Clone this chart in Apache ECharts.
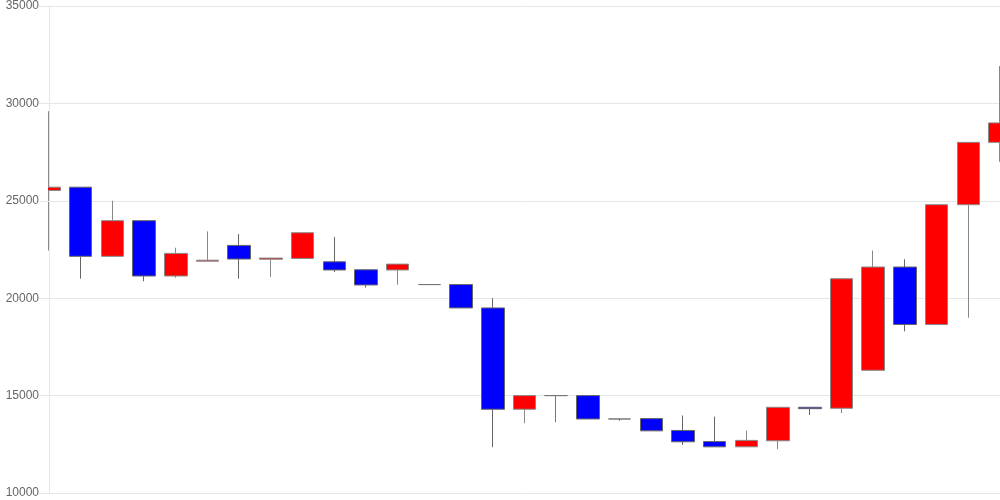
<!DOCTYPE html>
<html>
<head>
<meta charset="utf-8">
<script src="https://cdn.jsdelivr.net/npm/echarts@6/dist/echarts.min.js"></script>
<style>html,body{margin:0;padding:0;background:#fff}#c{width:1000px;height:500px}</style>
</head>
<body>
<div id="c"></div>
<script>
var categories = ['1','2','3','4','5','6','7','8','9','10','11','12','13','14','15','16','17','18','19','20','21','22','23','24','25','26','27','28','29','30','31'];
var opens  = [25530,25700,22150,23980,21140,21900,22710,22000,22040,21870,21460,21450,20700,20700,19500,14300,15000,15000,13800,13820,13210,12640,12370,12680,14400,14350,16300,21600,18650,24800,28000];
var closes = [25700,22150,23980,21140,22300,21950,22010,22060,23360,21450,20680,21750,20700,19500,14300,15000,15000,13800,13800,13190,12630,12370,12700,14400,14330,21000,21600,18650,24800,28000,29000];
var lows   = [22450,21000,22150,20870,21050,21900,21000,21090,22040,21340,20550,20690,20700,19500,12350,13580,13630,13800,13700,13190,12470,12370,12370,12250,14000,14100,16300,18300,18650,19000,27000];
var highs  = [29600,25700,25000,23980,22590,23430,23290,22060,23360,23150,21500,21750,20700,20700,20000,15000,15000,15000,13800,13850,13980,13920,13200,14400,14400,21000,22450,22000,24800,28000,31920];
var yTicks = [10000,15000,20000,25000,30000,35000];

var data = [];
for (var i = 0; i < categories.length; i++) {
  data.push([opens[i], closes[i], lows[i], highs[i]]);
}

var yMin = yTicks[0], yMax = yTicks[yTicks.length - 1];

var chart = echarts.init(document.getElementById('c'), null, {renderer: 'canvas'});
chart.setOption({
  animation: false,
  grid: {left: 49, right: 0, top: 6, bottom: 7, containLabel: false},
  graphic: {
    elements: [{
      type: 'rect',
      z: 5,
      shape: {x: 0, y: 0, width: 48, height: 500},
      style: {fill: '#ffffff'},
      silent: true
    }]
  },
  xAxis: {
    type: 'category',
    data: categories,
    boundaryGap: false,
    axisLine: {show: true, lineStyle: {color: '#e6e6e6'}},
    axisTick: {show: false},
    axisLabel: {show: false},
    splitLine: {show: false}
  },
  yAxis: [{
    type: 'value',
    min: yMin,
    max: yMax,
    interval: 5000,
    axisLine: {show: true, lineStyle: {color: '#e6e6e6'}},
    axisTick: {show: false},
    axisLabel: {show: false},
    splitLine: {show: true, lineStyle: {color: '#e6e6e6'}}
  }, {
    type: 'value',
    position: 'left',
    z: 10,
    min: yMin,
    max: yMax,
    interval: 5000,
    axisLine: {show: false},
    axisTick: {show: true, length: 10, lineStyle: {color: '#e6e6e6'}},
    axisLabel: {
      color: '#666',
      fontSize: 12,
      fontFamily: 'Liberation Sans, Arial, sans-serif',
      margin: 10,
      formatter: function (v) { return String(v); }
    },
    splitLine: {show: false}
  }],
  series: [{
    type: 'candlestick',
    data: data,
    yAxisIndex: 0,
    barWidth: 23,
    clip: true,
    itemStyle: {
      color: '#ff0000',
      color0: '#0000ff',
      borderColor: '#888888',
      borderColor0: '#666666',
      borderColorDoji: '#777777',
      borderWidth: 1
    }
  }]
});
</script>
</body>
</html>
